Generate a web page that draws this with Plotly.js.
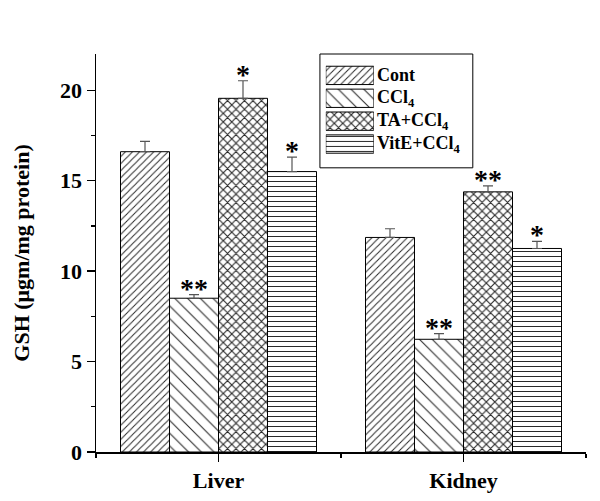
<!DOCTYPE html>
<html>
<head>
<meta charset="utf-8">
<script src="https://cdn.plot.ly/plotly-3.0.1.min.js"></script>
<style>html,body{margin:0;padding:0;background:#fff;}#chart{width:600px;height:501px;}</style>
</head>
<body>
<div id="chart"></div>
<script>
// ---- data ----
const organs = ['Liver', 'Kidney'];
const seriesNames = ['Cont', 'CCl<sub>4</sub>', 'TA+CCl<sub>4</sub>', 'VitE+CCl<sub>4</sub>'];
const contVals = [16.6, 11.86];
const contErr = [0.57, 0.48];
const ccl4Vals = [8.5, 6.23];
const ccl4Err = [0.2, 0.31];
const taVals = [19.55, 14.38];
const taErr = [0.97, 0.33];
const viteVals = [15.5, 11.25];
const viteErr = [0.8, 0.39];
const contSig = ['', ''];
const ccl4Sig = ['**', '**'];
const taSig = ['*', '**'];
const viteSig = ['*', '*'];

// ---- styles ----
const FONT = 'Liberation Serif, Times New Roman, serif';
const patterns = [
  {shape: '/', size: 5, solidity: 0.2},
  {shape: '\\', size: 9, solidity: 0.12},
  {shape: 'x', size: 6, solidity: 0.34},
  {shape: '-', size: 5, solidity: 0.2}
];
const vals = [contVals, ccl4Vals, taVals, viteVals];
const errs = [contErr, ccl4Err, taErr, viteErr];
const sigs = [contSig, ccl4Sig, taSig, viteSig];
const xIdx = organs.map((_, i) => i);

const traces = vals.map((v, j) => ({
  type: 'bar',
  x: xIdx,
  y: v,
  name: seriesNames[j],
  showlegend: false,
  marker: {
    color: '#ffffff',
    line: {color: '#000', width: 1},
    pattern: Object.assign({fgcolor: '#2a2a2a', bgcolor: '#fff', fillmode: 'replace'}, patterns[j])
  },
  error_y: {
    type: 'data', symmetric: false,
    array: errs[j], arrayminus: v.map(() => 0),
    color: '#555', thickness: 1.2, width: 5
  },
  hoverinfo: 'skip'
}));

// legend swatches as a small horizontal bar subplot
const legendIdx = seriesNames.map((_, j) => j);
traces.push({
  type: 'bar',
  orientation: 'h',
  xaxis: 'x2', yaxis: 'y2',
  y: legendIdx,
  x: legendIdx.map(() => 1),
  showlegend: false,
  marker: {
    color: '#fff',
    line: {color: '#000', width: 1},
    pattern: {
      shape: legendIdx.map(j => patterns[j].shape),
      size: legendIdx.map(j => patterns[j].size),
      solidity: legendIdx.map(j => patterns[j].solidity),
      fgcolor: '#2a2a2a', bgcolor: '#fff', fillmode: 'replace'
    }
  },
  hoverinfo: 'skip'
});

const annotations = [];
vals.forEach((v, j) => {
  v.forEach((val, i) => {
    if (!sigs[j][i]) return;
    annotations.push({
      x: i + (j - 1.5) * 0.2,
      y: val + errs[j][i],
      xref: 'x', yref: 'y',
      text: '<b>' + sigs[j][i] + '</b>',
      showarrow: false,
      yanchor: 'bottom',
      yshift: -11,
      font: {family: FONT, size: 28, color: '#000'}
    });
  });
});
// legend labels
seriesNames.forEach((name, j) => {
  annotations.push({
    x: 1.0, y: j,
    xref: 'x2 domain', yref: 'y2',
    text: '<b>' + name + '</b>',
    showarrow: false,
    xanchor: 'left', yanchor: 'middle',
    xshift: 1,
    font: {family: FONT, size: 18, color: '#000'}
  });
});

const layout = {
  width: 600, height: 501,
  margin: {l: 96, r: 14, t: 54, b: 49},
  paper_bgcolor: '#fff', plot_bgcolor: '#fff',
  barmode: 'group', bargap: 0.2, bargroupgap: 0,
  font: {family: FONT, color: '#000'},
  xaxis: {
    range: [-0.5, 1.5],
    tickmode: 'array', tickvals: xIdx, ticktext: organs.map(o => '<b>' + o + '</b>'),
    ticks: 'outside', ticklen: 8, tickwidth: 1.3, tickcolor: '#000',
    minor: {tick0: 0.5, dtick: 1, ticks: 'outside', ticklen: 4, tickwidth: 1.3, tickcolor: '#000'},
    showline: true, linecolor: '#000', linewidth: 1.5,
    showgrid: false, zeroline: false,
    tickfont: {family: FONT, size: 22, color: '#000'}
  },
  yaxis: {
    range: [0, 22],
    tickmode: 'array', tickvals: [0, 5, 10, 15, 20], ticktext: ['<b>0</b>', '<b>5</b>', '<b>10</b>', '<b>15</b>', '<b>20</b>'],
    ticks: 'outside', ticklen: 8, tickwidth: 1.3, tickcolor: '#000',
    minor: {tick0: 2.5, dtick: 5, ticks: 'outside', ticklen: 4, tickwidth: 1.3, tickcolor: '#000'},
    showline: true, linecolor: '#000', linewidth: 1.5,
    showgrid: false, zeroline: false,
    tickfont: {family: FONT, size: 22, color: '#000'},
    title: {text: '<b>GSH (μgm/mg protein)</b>', font: {family: FONT, size: 22, color: '#000'}, standoff: 24}
  },
  xaxis2: {
    domain: [0.469, 0.567], anchor: 'y2', range: [0, 1],
    visible: false, fixedrange: true
  },
  yaxis2: {
    domain: [0.745, 0.975], anchor: 'x2', range: [3.5, -0.5],
    visible: false, fixedrange: true
  },
  shapes: [{
    type: 'rect', xref: 'paper', yref: 'paper',
    x0: 0.457, x1: 0.769, y0: 0.714, y1: 1.0,
    line: {color: '#000', width: 1}, fillcolor: 'rgba(0,0,0,0)'
  }],
  annotations: annotations,
  showlegend: false
};

Plotly.newPlot('chart', traces, layout, {displayModeBar: false, staticPlot: true});
</script>
</body>
</html>
